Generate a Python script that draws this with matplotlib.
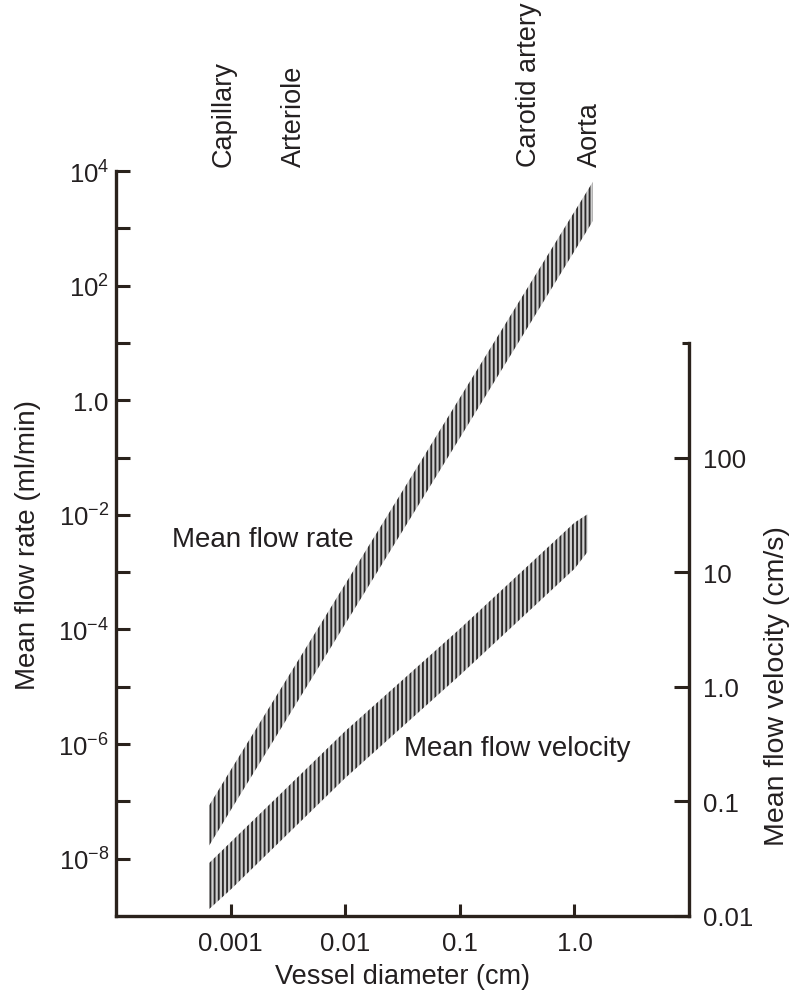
import numpy as np
import matplotlib
matplotlib.use("Agg")
import matplotlib.pyplot as plt
from matplotlib.ticker import FixedLocator, FixedFormatter, NullFormatter

# vessel diameter (cm) along the two bands
diam_flow = [0.00065, 0.001, 0.01, 0.1, 1.0, 1.45]
flow_hi = [8.5e-8, 3.5e-7, 6.2e-4, 1.1, 1950, 6500]      # ml/min
flow_lo = [1.7e-8, 7.0e-8, 1.25e-4, 0.22, 400, 1350]

diam_vel = [0.00065, 0.001, 0.01, 0.1, 1.0, 1.3]
vel_hi = [0.029, 0.044, 0.41, 3.2, 27, 32]               # cm/s
vel_lo = [0.0115, 0.017, 0.16, 1.26, 10.7, 15]

vessels = ["Capillary", "Arteriole", "Carotid artery", "Aorta"]
vessel_diam = [0.00087, 0.0036, 0.40, 1.36]

flow_ticks = [10.0 ** k for k in range(-8, 5)]
flow_labels = {4: "10^{4}", 2: "10^{2}", 0: "1.0", -2: "10^{-2}",
               -4: "10^{-4}", -6: "10^{-6}", -8: "10^{-8}"}
vel_ticks = [0.01, 0.1, 1.0, 10, 100]
vel_labels = ["0.01", "0.1", "1.0", "10", "100"]
x_ticks = [0.001, 0.01, 0.1, 1.0]
x_labels = ["0.001", "0.01", "0.1", "1.0"]

ink = "#231f20"
axis_col = "#2a221c"
band_col = "#2c2a2a"

plt.rcParams["font.family"] = ["Liberation Sans", "DejaVu Sans"]
plt.rcParams["mathtext.fontset"] = "custom"
plt.rcParams["mathtext.rm"] = "Liberation Sans"
plt.rcParams["hatch.linewidth"] = 1.35
plt.rcParams["text.color"] = ink

fig = plt.figure(figsize=(7.92, 9.95), dpi=100)
ax = fig.add_axes([0.1465, 0.0784, 0.7235, 0.7487])
ax2 = ax.twinx()

ax.set_xscale("log")
ax.set_yscale("log")
ax.set_xlim(1e-4, 10.0)
ax.set_ylim(1e-9, 1e4)
ax2.set_yscale("log")
ax2.set_ylim(0.01, 10 ** 4.5)

# hatched bands
ax.fill_between(diam_flow, flow_lo, flow_hi, facecolor="#cfcfcf",
                edgecolor=band_col, hatch="||||", linewidth=0)
ax2.fill_between(diam_vel, vel_lo, vel_hi, facecolor="#cfcfcf",
                 edgecolor=band_col, hatch="||||", linewidth=0)

# spines
for s in ["top", "right"]:
    ax.spines[s].set_visible(False)
for s in ["top", "left", "bottom"]:
    ax2.spines[s].set_visible(False)
for s in [ax.spines["left"], ax.spines["bottom"], ax2.spines["right"]]:
    s.set_linewidth(2.4)
    s.set_color(axis_col)
    s.set_capstyle("projecting")
ax2.spines["right"].set_bounds(0.01, 1000)

# left axis ticks
ax.yaxis.set_major_locator(FixedLocator(flow_ticks))
ax.yaxis.set_major_formatter(FixedFormatter(
    [("$\\mathregular{%s}$" % flow_labels[k]) if k in flow_labels else ""
     for k in range(-8, 5)]))
ax.yaxis.set_minor_formatter(NullFormatter())
ax.yaxis.set_minor_locator(FixedLocator([]))
ax.tick_params(axis="y", which="major", direction="in", length=10, width=2.2,
               color=axis_col, labelsize=18.5, pad=5, labelcolor=ink)

# bottom axis ticks
ax.xaxis.set_major_locator(FixedLocator(x_ticks))
ax.xaxis.set_major_formatter(FixedFormatter(x_labels))
ax.xaxis.set_minor_locator(FixedLocator([]))
ax.tick_params(axis="x", which="major", direction="in", length=9, width=2.2,
               color=axis_col, labelsize=18.5, pad=11, labelcolor=ink)

# right axis ticks
ax2.yaxis.set_major_locator(FixedLocator(vel_ticks))
ax2.yaxis.set_major_formatter(FixedFormatter(vel_labels))
ax2.yaxis.set_minor_locator(FixedLocator([1000]))
ax2.yaxis.set_minor_formatter(NullFormatter())
ax2.tick_params(axis="y", which="major", direction="in", length=11, width=2.2,
                color=axis_col, labelsize=18.5, pad=10, labelcolor=ink)
ax2.tick_params(axis="y", which="minor", direction="in", length=5, width=2.2,
                color=axis_col)

ax.set_xlabel("Vessel diameter (cm)", fontsize=19.5, color=ink)
ax.xaxis.set_label_coords(0.5, -0.063)
ax.set_ylabel("Mean flow rate (ml/min)", fontsize=20, color=ink)
ax.yaxis.set_label_coords(-0.131, 0.5)
ax2.set_ylabel("Mean flow velocity (cm/s)", fontsize=20.5, color=ink)
ax2.yaxis.set_label_coords(1.131, 0.31)

# vessel names along the top
for name, d in zip(vessels, vessel_diam):
    ax.text(d, 1.007, name, transform=ax.get_xaxis_transform(),
            rotation=90, ha="center", va="bottom", fontsize=19.5, color=ink)

ax.text(3.05e-4, 10 ** -2.42, "Mean flow rate", fontsize=20, color=ink,
        va="center", ha="left")
ax.text(0.0324, 10 ** -6.06, "Mean flow velocity", fontsize=20, color=ink,
        va="center", ha="left")

fig.savefig("out.png", dpi=100, facecolor="white")
